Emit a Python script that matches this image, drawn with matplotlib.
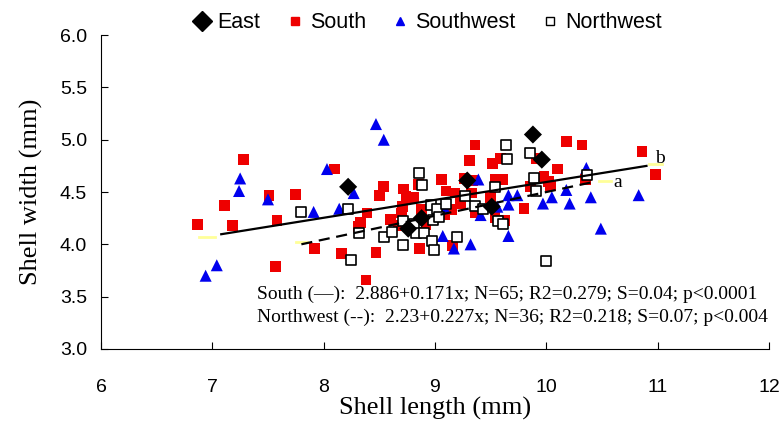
import numpy as np
import matplotlib
matplotlib.use('Agg')
from matplotlib import pyplot as plt
from matplotlib.lines import Line2D

# (shell length, shell width in mm)
south_x = [7.28, 7.11, 6.87, 7.18, 7.51, 7.58, 7.75, 7.57, 7.92, 8.10, 8.54, 8.50, 8.72, 8.74, 8.81,
           8.85, 9.06, 8.39, 8.33, 8.31, 8.71, 8.70, 8.60, 8.67, 8.88, 8.92, 8.16, 8.47, 8.86, 8.38,
           9.10, 9.36, 9.31, 9.52, 9.59, 9.91, 10.18, 10.10, 9.98, 10.02, 10.04, 9.54, 9.61, 9.26,
           9.34, 9.18, 9.33, 9.50, 9.86, 9.23, 9.15, 9.09, 9.36, 9.80, 9.54, 9.63, 9.16, 10.32,
           10.86, 10.98, 10.35]
south_y = [4.81, 4.37, 4.19, 4.18, 4.47, 4.23, 4.48, 3.79, 3.96, 4.72, 4.55, 4.47, 4.53, 4.46, 4.45,
           4.57, 4.62, 4.30, 4.21, 4.17, 4.36, 4.30, 4.24, 4.18, 4.33, 4.19, 3.91, 3.92, 3.96, 3.66,
           4.51, 4.95, 4.80, 4.77, 4.82, 4.82, 4.98, 4.72, 4.65, 4.60, 4.56, 4.62, 4.62, 4.63,
           4.61, 4.49, 4.49, 4.45, 4.55, 4.39, 4.33, 4.28, 4.30, 4.34, 4.26, 4.23, 3.99, 4.95,
           4.89, 4.67, 4.62]

sw_x = [7.25, 7.24, 7.50, 7.04, 6.94, 7.91, 8.47, 8.54, 8.03, 8.27, 8.14, 9.07, 9.39, 9.66, 9.74,
        9.66, 9.56, 9.41, 9.97, 10.05, 10.18, 10.21, 9.66, 9.32, 9.17, 10.36, 10.40, 10.83, 10.49, 9.08]
sw_y = [4.63, 4.51, 4.43, 3.80, 3.70, 4.31, 5.15, 5.00, 4.72, 4.49, 4.34, 4.08, 4.62, 4.47, 4.47,
        4.38, 4.36, 4.28, 4.39, 4.45, 4.52, 4.39, 4.08, 4.00, 3.96, 4.73, 4.45, 4.47, 4.15, 4.36]

nw_x = [7.80, 8.22, 8.32, 8.25, 8.54, 8.61, 8.71, 8.71, 8.86, 8.88, 8.81, 8.83, 8.90, 8.96, 8.98,
        9.02, 9.04, 8.97, 8.99, 9.10, 9.64, 9.65, 9.85, 9.89, 9.91, 9.54, 9.27, 9.36, 9.43, 9.57,
        9.61, 9.20, 10.00, 10.37]
nw_y = [4.31, 4.34, 4.11, 3.85, 4.07, 4.12, 3.99, 4.22, 4.68, 4.57, 4.19, 4.11, 4.11, 4.38, 4.23,
        4.34, 4.26, 4.03, 3.95, 4.39, 4.95, 4.82, 4.87, 4.63, 4.51, 4.55, 4.46, 4.37, 4.34, 4.22,
        4.19, 4.07, 3.84, 4.66]

east_x = [8.22, 8.76, 8.88, 9.29, 9.51, 9.88, 9.96]
east_y = [4.55, 4.15, 4.25, 4.61, 4.36, 5.05, 4.81]

# regression lines from the annotation
south_fit = (2.886, 0.171, 7.08, 10.90)
nw_fit = (2.23, 0.227, 7.80, 10.44)

fig = plt.figure(figsize=(7.83, 4.34), dpi=100)
ax = fig.add_axes([0.129, 0.196, 0.853, 0.723])

ax.scatter(south_x, south_y, marker='s', s=60, c='#ee0000', edgecolors='none', zorder=3)
ax.scatter(sw_x, sw_y, marker='^', s=75, c='#0000ee', edgecolors='none', zorder=3)
ax.scatter(nw_x, nw_y, marker='s', s=50, facecolors='white', edgecolors='black', linewidths=1.2, zorder=4)
ax.scatter(east_x, east_y, marker='D', s=85, c='black', edgecolors='none', zorder=5)

# trend lines (with the faint yellow stubs at their ends)
a, b, x0, x1 = south_fit
xs = np.array([x0, x1])
ax.plot(xs, a + b * xs, color='black', lw=1.6, zorder=6)
ax.plot([x0 - 0.2, x0 - 0.06], [a + b * (x0 - 0.15)] * 2, color='#ffff99', lw=2, zorder=2)
ax.plot([x1 + 0.02, x1 + 0.14], [a + b * (x1 + 0.1)] * 2, color='#ffff99', lw=2, zorder=2)
a, b, x0, x1 = nw_fit
xs = np.array([x0, x1])
ax.plot(xs, a + b * xs, color='black', lw=1.6, ls=(0, (5, 3)), zorder=6)
ax.plot([x0 - 0.05, x0 + 0.05], [a + b * x0 + 0.02] * 2, color='#ffff99', lw=2, zorder=2)
ax.plot([x1 + 0.03, x1 + 0.14], [a + b * x1 + 0.01] * 2, color='#ffff99', lw=2, zorder=2)
ax.text(10.6, 4.59, 'a', family='Liberation Serif', fontsize=14, va='center')
ax.text(10.98, 4.82, 'b', family='Liberation Serif', fontsize=14, va='center')

ax.text(7.4, 3.52, 'South (\u2014):  2.886+0.171x; N=65; R2=0.279; S=0.04; p<0.0001',
        family='Liberation Serif', fontsize=14, va='center')
ax.text(7.4, 3.30, 'Northwest (--):  2.23+0.227x; N=36; R2=0.218; S=0.07; p<0.004',
        family='Liberation Serif', fontsize=14, va='center')

ax.set_xlim(6, 12)
ax.set_ylim(3.0, 6.0)
ax.set_xticks(range(6, 13))
ax.set_yticks(np.arange(3.0, 6.01, 0.5))
ax.set_yticklabels(['%.1f' % v for v in np.arange(3.0, 6.01, 0.5)])
ax.tick_params(direction='in', length=5, labelsize=14, pad=10)
for lab in ax.get_xticklabels() + ax.get_yticklabels():
    lab.set_family('Liberation Sans')
ax.tick_params(axis='x', pad=22)
ax.spines['top'].set_visible(False)
ax.spines['right'].set_visible(False)
ax.set_xlabel('Shell length (mm)', family='Liberation Serif', fontsize=19, labelpad=0)
ax.set_ylabel('Shell width (mm)', family='Liberation Serif', fontsize=19, labelpad=12)

handles = [
    Line2D([], [], ls='none', marker='D', color='black', markersize=10),
    Line2D([], [], ls='none', marker='s', color='#ee0000', markersize=6),
    Line2D([], [], ls='none', marker='^', color='#0000ee', markersize=6),
    Line2D([], [], ls='none', marker='s', mfc='white', mec='black', markersize=6),
]
fig.legend(handles, ['East', 'South', 'Southwest', 'Northwest'], loc='center', ncol=4,
           bbox_to_anchor=(0.545, 0.948), frameon=False, handletextpad=0.2, columnspacing=1.1,
           prop={'family': 'Liberation Sans', 'size': 15.5}, handlelength=1.0)

fig.savefig('out.png', dpi=100)
